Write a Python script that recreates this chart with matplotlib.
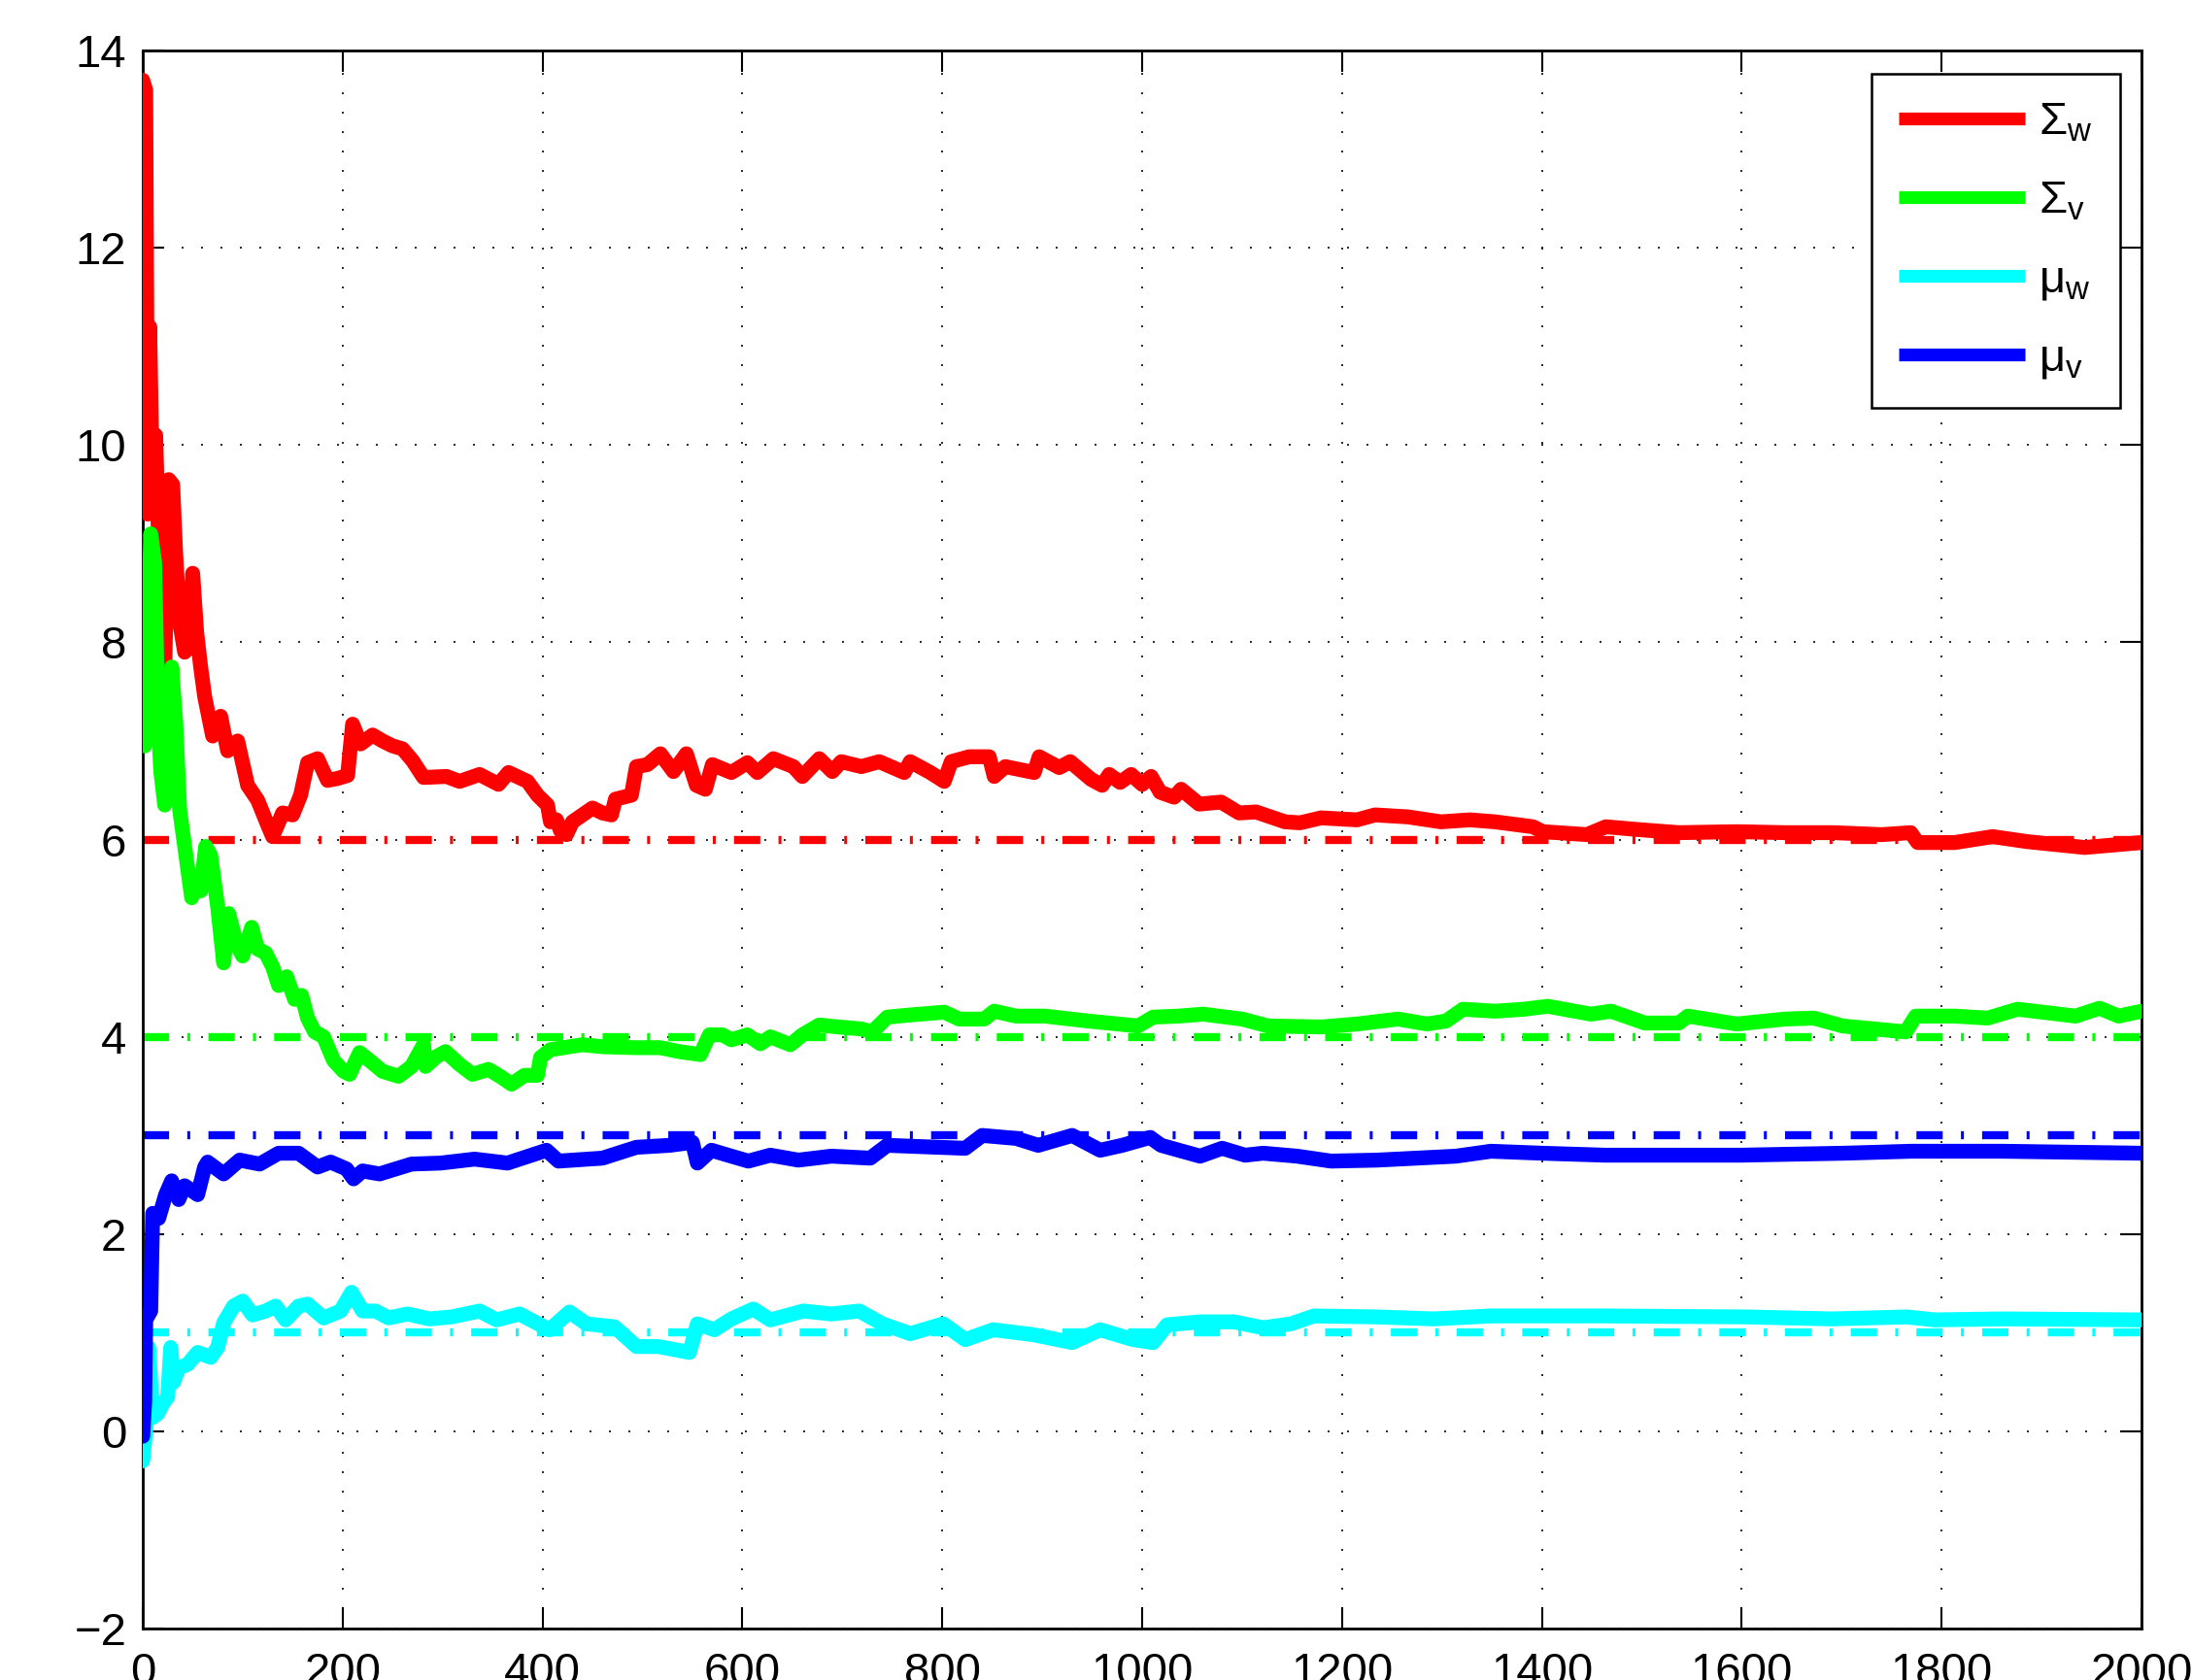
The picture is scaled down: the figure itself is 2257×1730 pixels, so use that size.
import matplotlib
matplotlib.use("Agg")
import matplotlib.pyplot as plt

# --- data ------------------------------------------------------------------
red_x = [0, 3, 5, 7, 10, 13, 17, 22, 26, 30, 33, 37, 42, 46, 50, 54, 58, 62, 70, 78,
         85, 95, 105, 115, 125, 130, 140, 150, 158, 165, 175, 185, 195, 205, 210, 218,
         230, 240, 250, 260, 270, 281, 304, 317, 337, 356, 366, 385, 395, 405, 408,
         414, 418, 424, 430, 440, 450, 460, 469, 473, 489, 494, 505, 518, 531, 544,
         554, 563, 570, 589, 605, 615, 631, 651, 660, 677, 690, 699, 719, 737, 762,
         768, 788, 802, 809, 827, 847, 852, 863, 892, 897, 917, 928, 949, 960, 967,
         978, 989, 1000, 1009, 1018, 1032, 1039, 1057, 1079, 1097, 1114, 1143, 1158,
         1179, 1215, 1233, 1266, 1299, 1328, 1353, 1391, 1401, 1445, 1464, 1498, 1537,
         1595, 1643, 1692, 1740, 1769, 1776, 1813, 1851, 1885, 1943, 2000]
red_y = [13.7, 13.6, 9.3, 11.2, 9.4, 10.1, 8.6, 7.7, 9.65, 9.6, 8.9, 8.2, 7.9, 7.95, 8.7,
         8.1, 7.75, 7.45, 7.05, 7.25, 6.9, 7.0, 6.55, 6.4, 6.15, 6.03, 6.27, 6.25, 6.45,
         6.78, 6.82, 6.6, 6.62, 6.65, 7.17, 6.97, 7.06, 7.0, 6.95, 6.92, 6.8, 6.63, 6.64,
         6.59, 6.66, 6.56, 6.68, 6.59, 6.45, 6.35, 6.18, 6.2, 6.09, 6.05, 6.18, 6.25,
         6.32, 6.27, 6.25, 6.41, 6.45, 6.74, 6.76, 6.87, 6.69, 6.87, 6.55, 6.51, 6.76,
         6.68, 6.78, 6.68, 6.82, 6.74, 6.64, 6.82, 6.69, 6.79, 6.74, 6.79, 6.68, 6.79,
         6.68, 6.59, 6.79, 6.84, 6.84, 6.64, 6.74, 6.68, 6.84, 6.73, 6.79, 6.61, 6.55,
         6.66, 6.58, 6.66, 6.56, 6.64, 6.48, 6.43, 6.51, 6.36, 6.38, 6.27, 6.28, 6.18,
         6.17, 6.22, 6.2, 6.25, 6.23, 6.18, 6.2, 6.18, 6.13, 6.08, 6.05, 6.13, 6.1, 6.07,
         6.08, 6.07, 6.07, 6.05, 6.07, 5.97, 5.97, 6.03, 5.98, 5.92, 5.97]

green_x = [0, 2, 5, 8, 12, 15, 18, 22, 26, 29, 33, 37, 42, 49, 53, 58, 63, 68, 75, 81,
           86, 94, 100, 109, 115, 123, 130, 136, 144, 152, 159, 165, 172, 181, 191, 201,
           207, 217, 227, 240, 256, 269, 281, 283, 294, 303, 317, 330, 346, 359, 369,
           382, 395, 398, 408, 421, 440, 460, 492, 518, 537, 558, 567, 580, 589, 605,
           618, 628, 648, 660, 677, 696, 719, 730, 745, 766, 802, 817, 842, 852, 874,
           903, 946, 996, 1011, 1036, 1061, 1100, 1126, 1179, 1215, 1256, 1285, 1304,
           1321, 1353, 1382, 1406, 1449, 1469, 1503, 1537, 1546, 1595, 1643, 1672, 1701,
           1764, 1774, 1813, 1846, 1876, 1934, 1958, 1977, 2000]
green_y = [7.4, 6.95, 7.8, 9.1, 8.8, 7.3, 6.7, 6.35, 7.0, 7.75, 7.2, 6.3, 5.93, 5.41,
           5.55, 5.48, 5.93, 5.84, 5.32, 4.75, 5.25, 4.94, 4.82, 5.11, 4.89, 4.85, 4.71,
           4.52, 4.61, 4.38, 4.42, 4.19, 4.05, 4.0, 3.76, 3.65, 3.62, 3.84, 3.76, 3.65,
           3.6, 3.7, 3.92, 3.7, 3.8, 3.85, 3.72, 3.62, 3.67, 3.59, 3.52, 3.61, 3.61, 3.79,
           3.87, 3.89, 3.92, 3.9, 3.89, 3.89, 3.85, 3.82, 4.02, 4.02, 3.97, 4.02, 3.93,
           4.0, 3.92, 4.02, 4.12, 4.1, 4.08, 4.05, 4.2, 4.22, 4.25, 4.18, 4.18, 4.26, 4.21,
           4.21, 4.16, 4.11, 4.2, 4.21, 4.23, 4.18, 4.11, 4.1, 4.13, 4.18, 4.13, 4.16,
           4.28, 4.26, 4.28, 4.31, 4.23, 4.26, 4.14, 4.14, 4.21, 4.13, 4.18, 4.19, 4.11,
           4.05, 4.21, 4.21, 4.19, 4.28, 4.21, 4.29, 4.21, 4.26]

cyan_x = [0, 3, 6, 10, 15, 20, 25, 28, 31, 36, 45, 55, 68, 75, 81, 91, 100, 110, 123,
          133, 143, 156, 165, 181, 198, 209, 220, 233, 246, 265, 287, 309, 337, 354,
          377, 407, 427, 444, 472, 494, 516, 547, 555, 572, 589, 611, 628, 661, 689, 717,
          740, 768, 801, 823, 851, 891, 930, 958, 991, 1011, 1025, 1058, 1092, 1121,
          1149, 1172, 1235, 1292, 1349, 1463, 1605, 1690, 1765, 1793, 1861, 2000]
cyan_y = [-0.3, 0.0, 0.85, 0.14, 0.18, 0.28, 0.35, 0.85, 0.5, 0.64, 0.68, 0.8, 0.75,
          0.85, 1.1, 1.27, 1.32, 1.18, 1.22, 1.27, 1.13, 1.27, 1.29, 1.15, 1.22, 1.41,
          1.22, 1.22, 1.15, 1.19, 1.14, 1.16, 1.22, 1.13, 1.19, 1.03, 1.21, 1.09, 1.06,
          0.86, 0.86, 0.8, 1.09, 1.03, 1.14, 1.24, 1.13, 1.22, 1.19, 1.22, 1.09, 0.99,
          1.09, 0.93, 1.03, 0.98, 0.9, 1.03, 0.93, 0.9, 1.08, 1.11, 1.11, 1.05, 1.09,
          1.17, 1.16, 1.14, 1.17, 1.17, 1.16, 1.14, 1.16, 1.13, 1.14, 1.13]

blue_x = [0, 2, 3, 8, 10, 16, 23, 29, 36, 42, 55, 62, 65, 81, 97, 117, 136, 156, 175,
          188, 204, 211, 220, 237, 253, 269, 298, 332, 365, 404, 416, 460, 494, 527,
          550, 555, 569, 589, 606, 628, 656, 689, 728, 745, 796, 823, 840, 874, 896,
          930, 958, 980, 1008, 1019, 1058, 1080, 1103, 1121, 1155, 1189, 1235, 1314,
          1349, 1400, 1463, 1599, 1702, 1770, 1861, 2000]
blue_y = [-0.05, 0.3, 1.13, 1.22, 2.21, 2.16, 2.4, 2.54, 2.35, 2.49, 2.4, 2.68, 2.73,
          2.61, 2.75, 2.71, 2.82, 2.82, 2.68, 2.73, 2.66, 2.56, 2.64, 2.61, 2.66, 2.71,
          2.72, 2.76, 2.72, 2.85, 2.74, 2.77, 2.88, 2.9, 2.93, 2.72, 2.85, 2.79, 2.74,
          2.8, 2.75, 2.79, 2.77, 2.9, 2.88, 2.87, 3.0, 2.97, 2.9, 3.0, 2.85, 2.9, 2.98,
          2.9, 2.79, 2.87, 2.8, 2.82, 2.79, 2.74, 2.75, 2.79, 2.84, 2.82, 2.8, 2.8, 2.82,
          2.84, 2.84, 2.82]

# true parameter values (dash-dot reference lines)
true_span = [0, 2000]
true_sigma_w = 6
true_sigma_v = 4
true_mu_w = 1
true_mu_v = 3

labels = [r"$\Sigma_{\mathrm{w}}$", r"$\Sigma_{\mathrm{v}}$",
          r"$\mu_{\mathrm{w}}$", r"$\mu_{\mathrm{v}}$"]
x_ticks = list(range(0, 2001, 200))
y_ticks = list(range(-2, 15, 2))

# --- style ----------------------------------------------------------------
plt.rcParams["font.family"] = ["Liberation Sans", "DejaVu Sans"]
plt.rcParams["mathtext.fontset"] = "custom"
plt.rcParams["mathtext.rm"] = "Liberation Sans"
plt.rcParams["mathtext.it"] = "Liberation Sans"
plt.rcParams["mathtext.bf"] = "Liberation Sans"
plt.rcParams["lines.scale_dashes"] = False

RED, GREEN, CYAN, BLUE = "#ff0000", "#00ff00", "#00ffff", "#0000ff"
DASHDOT = (0, (19.5, 13.5, 2.2, 13.5))
SOLID_LW = 11.0
DASH_LW = 6.0

fig = plt.figure(figsize=(22.57, 17.30), dpi=100)
# axes box: x 147..2205 px, y 52..1677 px (MATLAB-style layout, labels run off the bottom)
ax = fig.add_axes([0.0651, 0.0306, 0.9119, 0.9393])

for val, c in [(true_sigma_w, RED), (true_sigma_v, GREEN),
               (true_mu_v, BLUE), (true_mu_w, CYAN)]:
    ax.plot(true_span, [val, val], color=c, lw=DASH_LW, linestyle=DASHDOT,
            dash_capstyle="butt", zorder=2)

handles = []
for xs, ys, c, lab in [(red_x, red_y, RED, labels[0]),
                       (green_x, green_y, GREEN, labels[1]),
                       (cyan_x, cyan_y, CYAN, labels[2]),
                       (blue_x, blue_y, BLUE, labels[3])]:
    h, = ax.plot(xs, ys, color=c, lw=SOLID_LW, label=lab,
                 solid_joinstyle="round", solid_capstyle="round", zorder=3)
    handles.append(h)

ax.set_xlim(0, 2000)
ax.set_ylim(-2, 14)
ax.set_xticks(x_ticks)
ax.set_yticks(y_ticks)
ax.tick_params(direction="in", length=16, width=1.5, top=True, right=True,
               labelsize=34, colors="black")
ax.tick_params(axis="x", pad=17)
ax.tick_params(axis="y", pad=12)
for sp in ax.spines.values():
    sp.set_linewidth(2.0)
    sp.set_color("black")
ax.grid(True, color="black", linestyle=(0, (1.4, 13.0)), linewidth=1.2)
ax.set_axisbelow(True)

leg = ax.legend(handles=handles, loc="upper right",
                bbox_to_anchor=(0.9893, 0.9852), borderaxespad=0,
                fontsize=34, handlelength=2.75, handletextpad=0.3,
                labelspacing=0.78, borderpad=0.6, fancybox=False,
                framealpha=1, edgecolor="black")
leg.get_frame().set_linewidth(1.8)
for line in leg.get_lines():
    line.set_linewidth(9.5)
    line.set_solid_capstyle("butt")

fig.savefig("out.png", dpi=100)
